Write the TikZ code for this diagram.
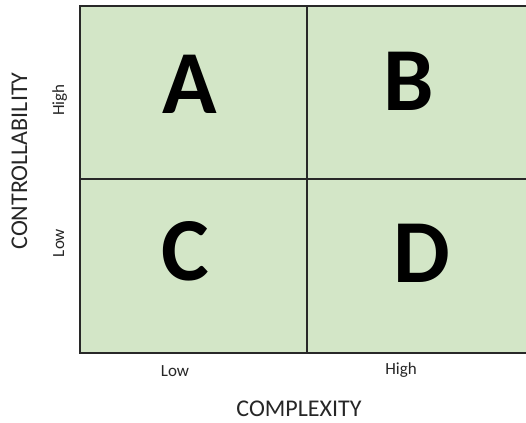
\documentclass[tikz,border=0pt]{standalone}
\usepackage{fontspec}
\setmainfont{Carlito}
\definecolor{cellgreen}{RGB}{211,230,199}
\definecolor{gridline}{RGB}{40,40,40}
\begin{document}
\begin{tikzpicture}[x=1pt,y=-1pt,
  big/.style={font=\fontsize{90}{90}\selectfont\bfseries, inner sep=0pt, anchor=base},
  axis/.style={font=\fontsize{24}{24}\selectfont, inner sep=0pt, anchor=base, text=black!85},
  tick/.style={font=\fontsize{17}{17}\selectfont, inner sep=0pt, anchor=base, text=black!85},
  grid/.style={draw=gridline, line width=1.8pt}]
\useasboundingbox (0,0) rectangle (526,422);
\fill[cellgreen] (80,6) rectangle (530,353);
\coordinate (tl) at (80,6);
\coordinate (bl) at (80,353);
\coordinate (tr) at (530,6);
\coordinate (br) at (530,353);
\coordinate (mt) at (307,6);
\coordinate (mb) at (307,353);
\coordinate (ml) at (80,179);
\coordinate (mr) at (530,179);
\draw[grid] (tr) -- (tl) -- (bl) -- (br);
\draw[grid] (mt) -- (mb);
\draw[grid] (ml) -- (mr);
\node[big] (A) at (190,114) {A};
\node[big] (B) at (409,111) {B};
\node[big] (C) at (185,280) {C};
\node[big] (D) at (422,282) {D};
\node[tick] (xl) at (175,376) {Low};
\node[tick] (xh) at (401,374) {High};
\node[axis] (xa) at (299,416) {COMPLEXITY};
\node[tick, rotate=90] (yh) at (64,100) {High};
\node[tick, rotate=90] (yl) at (64,243) {Low};
\node[axis, rotate=90] (ya) at (27,161) {CONTROLLABILITY};
\end{tikzpicture}
\end{document}
